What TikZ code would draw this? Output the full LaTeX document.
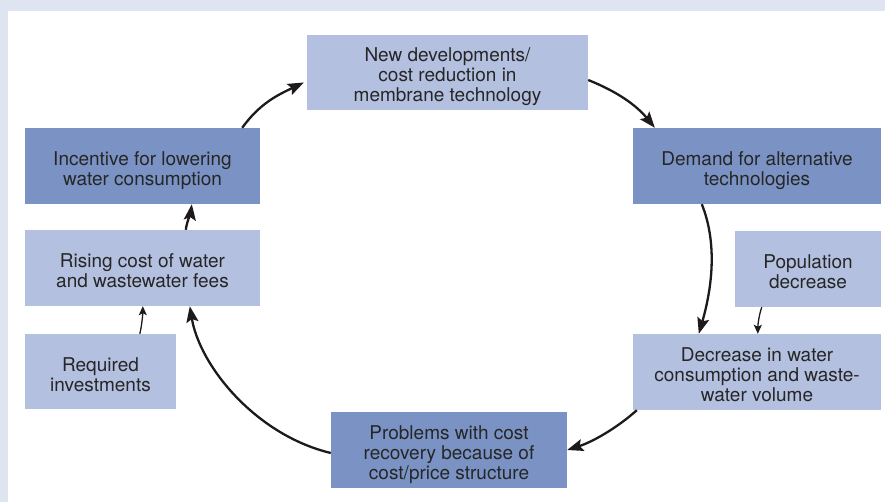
\documentclass[tikz,border=0pt]{standalone}
\usepackage{fontspec}
\setmainfont{TeX Gyre Heros}
\usetikzlibrary{arrows.meta}
\definecolor{darkbox}{HTML}{7A93C4}
\definecolor{lightbox}{HTML}{B4C0E0}
\definecolor{band}{HTML}{DEE4F0}
\definecolor{txt}{HTML}{262626}
\definecolor{arr}{HTML}{1E1A1A}
\newcommand\boxtext[1]{\raisebox{-5.5pt}[\height][\depth]{\begin{tabular}{@{}c@{}}#1\end{tabular}}}
\tikzset{
  box/.style={rectangle, inner sep=0pt, align=center, text=txt,
    font=\fontsize{19}{20}\selectfont},
  dbox/.style={box, fill=darkbox},
  lbox/.style={box, fill=lightbox},
  conn/.style={draw=arr, line width=2.3pt, -{Stealth[length=16pt,width=12pt,inset=3pt]}},
  sconn/.style={draw=arr, line width=1.3pt, -{Stealth[length=9pt,width=8pt,inset=2pt]}},
}
\begin{document}
\begin{tikzpicture}[x=1pt,y=-1pt]
\fill[band] (0,0) rectangle (885,502);
\fill[white] (8,11) rectangle (885,502);
\useasboundingbox (0,0) rectangle (885,502);

\node[lbox, minimum width=281pt, minimum height=75pt] (newdev) at (447.5,72.5)
  {\boxtext{New developments/\\cost reduction in\\membrane technology}};
\node[dbox, minimum width=235pt, minimum height=76pt] (incent) at (142.5,166)
  {\boxtext{Incentive for lowering\\water consumption}};
\node[dbox, minimum width=248pt, minimum height=76pt] (demand) at (757,166)
  {\boxtext{Demand for alternative\\technologies}};
\node[lbox, minimum width=235pt, minimum height=76pt] (rising) at (142.5,268)
  {\boxtext{Rising cost of water\\and wastewater fees}};
\node[lbox, minimum width=151pt, minimum height=75pt] (required) at (100.5,371.5)
  {\boxtext{Required\\investments}};
\node[lbox, minimum width=146pt, minimum height=76pt] (popul) at (808,269)
  {\boxtext{Population\\decrease}};
\node[lbox, minimum width=248pt, minimum height=76pt] (decr) at (757,372)
  {\boxtext{Decrease in water\\consumption and waste-\\water volume}};
\node[dbox, minimum width=236pt, minimum height=76pt] (probl) at (449,450)
  {\boxtext{Problems with cost\\recovery because of\\cost/price structure}};

% cycle
\draw[conn] ([xshift=-18pt]incent.north east) .. controls +(18,-25) and +(-25,12) .. ([xshift=-3pt,yshift=-10pt]newdev.west);
\draw[conn] ([yshift=-7.5pt]newdev.east) .. controls +(30,12) and +(-18,-22) .. ([xshift=22pt]demand.north west);
\draw[conn] ([xshift=69pt]demand.south west) .. controls +(16,40) and +(13,-45) .. ([xshift=66pt]decr.north west);
\draw[conn] ([xshift=4pt]decr.south west) .. controls +(-20,18) and +(25,-8) .. (probl.east);
\draw[conn] ([yshift=-3pt]probl.west) .. controls +(-75,-18) and +(10,60) .. ([xshift=165pt]rising.south west);
\draw[conn] ([xshift=161pt]rising.north west) .. controls +(1,-8) and +(-1,8) .. ([xshift=167pt]incent.south west);
% side influences
\draw[sconn] ([xshift=27pt]popul.south west) .. controls +(-3,8) and +(0,-8) .. ([xshift=125pt]decr.north west);
\draw[sconn] ([xshift=115pt]required.north west) .. controls +(2,-8) and +(0,8) .. ([xshift=118pt]rising.south west);
\end{tikzpicture}
\end{document}
